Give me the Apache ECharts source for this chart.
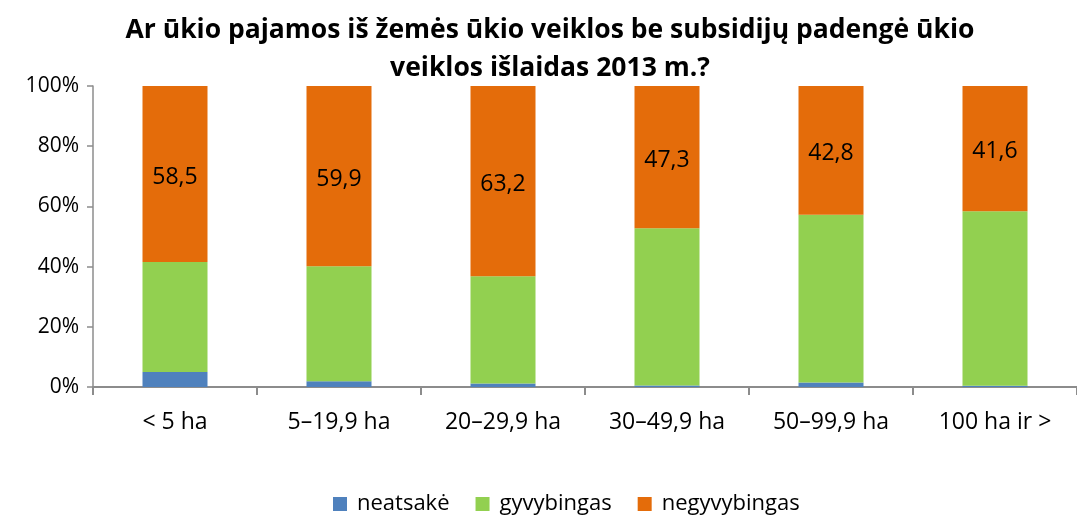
<!DOCTYPE html>
<html>
<head>
<meta charset="utf-8">
<script src="https://cdn.jsdelivr.net/npm/echarts@6/dist/echarts.min.js"></script>
<style>
  html, body { margin: 0; padding: 0; background: #fff; }
  #chart { width: 1077px; height: 516px; }
</style>
</head>
<body>
<div id="chart"></div>
<script>
// ūkio dydžio grupės
var categories = ['< 5 ha', '5–19,9 ha', '20–29,9 ha', '30–49,9 ha', '50–99,9 ha', '100 ha ir >'];
// procentai
var neatsake = [5.0, 1.9, 1.2, 0.5, 1.5, 0.4];
var gyvybingas = [36.5, 38.2, 35.6, 52.2, 55.7, 58.0];
var negyvybingas = [58.5, 59.9, 63.2, 47.3, 42.8, 41.6];
var yTicks = [0, 20, 40, 60, 80, 100];

var font = 'Open Sans';
var axisColor = '#8c8c8c';

var chart = echarts.init(document.getElementById('chart'));
chart.setOption({
    animation: false,
    textStyle: { fontFamily: font },
    graphic: [{
        // pavadinimas, dviem eilutėm, centruotas ties x=550
        type: 'text',
        x: 550,
        y: 49,
        style: {
            text: 'Ar ūkio pajamos iš žemės ūkio veiklos be subsidijų padengė ūkio\nveiklos išlaidas 2013 m.?',
            align: 'center',
            verticalAlign: 'middle',
            fontFamily: font, fontSize: 26.5, fontWeight: 'bold', fill: '#000', lineHeight: 38
        }
    }],
    legend: {
        top: 488,
        left: 328,
        itemWidth: 14,
        itemHeight: 14,
        itemGap: 26,
        icon: 'rect',
        textStyle: { fontFamily: font, fontSize: 22, color: '#000', padding: [0, 0, 0, 5] },
        data: ['neatsakė', 'gyvybingas', 'negyvybingas']
    },
    grid: { left: 93, right: -12, top: 86, bottom: 129, containLabel: false },
    xAxis: {
        type: 'category',
        data: categories,
        boundaryGap: true,
        axisLine: { lineStyle: { color: axisColor, width: 2 } },
        axisTick: { show: true, length: 8, lineStyle: { color: axisColor, width: 2 } },
        axisLabel: { fontFamily: font, fontSize: 23, color: '#000', margin: 24 }
    },
    yAxis: {
        type: 'value',
        min: yTicks[0],
        max: yTicks[yTicks.length - 1],
        interval: 20,
        splitLine: { show: false },
        axisLine: { show: true, lineStyle: { color: axisColor, width: 1.5 } },
        axisTick: { show: true, length: 6, lineStyle: { color: axisColor, width: 1.5 } },
        axisLabel: { fontFamily: font, fontSize: 21, color: '#000', margin: 14, formatter: '{value}%' }
    },
    series: [
        {
            name: 'neatsakė', type: 'bar', stack: 'a', barWidth: 65,
            itemStyle: { color: '#4f81bd' },
            data: neatsake
        },
        {
            name: 'gyvybingas', type: 'bar', stack: 'a', barWidth: 65,
            itemStyle: { color: '#92d050' },
            data: gyvybingas
        },
        {
            name: 'negyvybingas', type: 'bar', stack: 'a', barWidth: 65,
            itemStyle: { color: '#e46c0a' },
            label: {
                show: true, position: 'inside', color: '#000',
                fontFamily: font, fontSize: 23, offset: [0, 3],
                formatter: function (p) { return p.value.toFixed(1).replace('.', ','); }
            },
            data: negyvybingas
        }
    ]
});
</script>
</body>
</html>
